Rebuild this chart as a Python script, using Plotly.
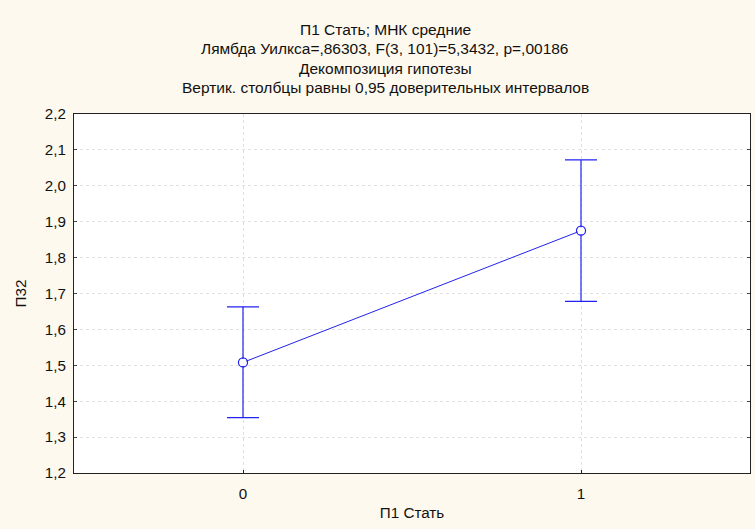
import plotly.graph_objects as go

# Group levels and least-squares means with 0.95 confidence limits
groups = [0, 1]
means = [1.508, 1.875]
ci_lower = [1.354, 1.678]
ci_upper = [1.663, 2.072]

y_ticks = [1.2, 1.3, 1.4, 1.5, 1.6, 1.7, 1.8, 1.9, 2.0, 2.1, 2.2]
y_tick_text = [f"{v:.1f}".replace(".", ",") for v in y_ticks]

title_lines = [
    "П1 Стать; МНК средние",
    "Лямбда Уилкса=,86303, F(3, 101)=5,3432, p=,00186",
    "Декомпозиция гипотезы",
    "Вертик. столбцы равны 0,95 доверительных интервалов",
]

blue = "#2222EE"
bg = "#FEF9EE"
font = dict(family="Liberation Sans, Arial, sans-serif", size=15.2, color="#111")
title_font = dict(family="Liberation Sans, Arial, sans-serif", size=15.5, color="#111")

err_plus = [u - m for u, m in zip(ci_upper, means)]
err_minus = [m - l for m, l in zip(means, ci_lower)]

fig = go.Figure()
fig.add_trace(go.Scatter(
    x=groups, y=means,
    mode="lines+markers",
    line=dict(color=blue, width=1),
    marker=dict(symbol="circle-open", size=9, color=blue, line=dict(width=1.3, color=blue)),
    error_y=dict(type="data", array=err_plus, arrayminus=err_minus,
                 color=blue, thickness=1.2, width=16, visible=True),
    showlegend=False,
))

# white fill behind the open markers
fig.add_trace(go.Scatter(
    x=groups, y=means, mode="markers",
    marker=dict(symbol="circle", size=7, color="white"),
    showlegend=False, hoverinfo="skip",
))

W, H = 755, 529
L, R, T, B = 74, 5, 114, 56

for i, line in enumerate(title_lines):
    fig.add_annotation(
        text=line, xref="paper", yref="paper",
        x=(385 - L) / (W - L - R), y=1 + (T - (29.5 + 19.3 * i)) / (H - T - B),
        xanchor="center", yanchor="middle", showarrow=False, font=title_font,
    )

fig.update_layout(
    width=W, height=H,
    margin=dict(l=L, r=R, t=T, b=B),
    paper_bgcolor=bg, plot_bgcolor="white",
    font=font,
    xaxis=dict(
        range=[-0.5, 1.5], tickvals=groups, ticktext=[str(g) for g in groups],
        showgrid=True, gridcolor="#E0E0E0", griddash="dot", gridwidth=1,
        showline=True, linecolor="#222", linewidth=1, mirror=True,
        ticks="inside", ticklen=3, tickcolor="#222",
        ticklabelstandoff=7,
        zeroline=False,
        title=dict(text="П1 Стать", font=font, standoff=6),
    ),
    yaxis=dict(
        range=[1.2, 2.2], tickvals=y_ticks, ticktext=y_tick_text,
        showgrid=True, gridcolor="#E0E0E0", griddash="dot", gridwidth=1,
        showline=True, linecolor="#222", linewidth=1, mirror="allticks",
        ticks="inside", ticklen=3, tickcolor="#444",
        ticklabelstandoff=4,
        zeroline=False,
        title=dict(text="П32", font=font, standoff=14),
    ),
)

fig.write_html("out.html")
